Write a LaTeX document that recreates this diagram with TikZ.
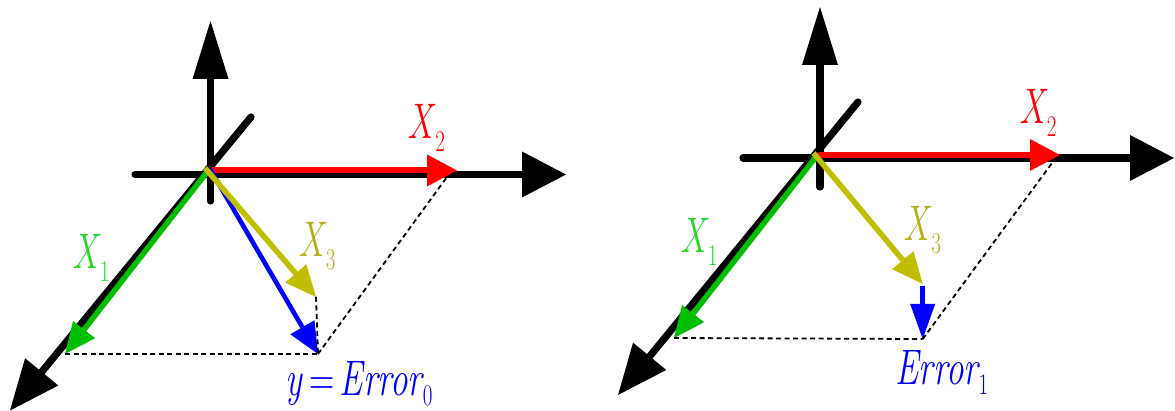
\documentclass[tikz,border=0pt]{standalone}
\usetikzlibrary{arrows.meta}
\definecolor{cred}{RGB}{255,0,0}
\definecolor{cgreen}{RGB}{0,190,0}
\definecolor{cgreenlbl}{RGB}{40,215,40}
\definecolor{cyellow}{RGB}{192,190,0}
\definecolor{cyellowlbl}{RGB}{180,175,20}
\definecolor{cblue}{RGB}{0,0,255}
\newcommand{\lblvar}[2]{\scalebox{0.7}[1]{\fontsize{50}{50}\selectfont\itshape #1\upshape\hspace{3pt}\raisebox{-13pt}{\fontsize{30}{30}\selectfont #2}}}
\newcommand{\lblerr}[2]{\scalebox{0.7}[1]{\fontsize{50}{50}\selectfont #1\itshape Error\upshape\hspace{1pt}\raisebox{-10pt}{\fontsize{30}{30}\selectfont #2}}}
\begin{document}
\begin{tikzpicture}[x=1pt,y=-1pt,
  axis/.style={line width=7.2pt, line cap=round, black},
  upaxis/.style={axis, -{Triangle[length=58pt,width=36pt,line width=0pt]}},
  haxis/.style={axis, -{Triangle[length=44pt,width=46pt,line width=0pt]}},
  daxis/.style={axis, -{Triangle[length=50pt,width=43pt,line width=0pt]}},
  vec/.style={line width=5.5pt, -{Triangle[length=31pt,width=28pt,line width=0pt]}},
  redvec/.style={vec, line width=6pt, cred, -{Triangle[length=30pt,width=32pt,line width=0pt]}},
  greenvec/.style={vec, cgreen},
  yellowvec/.style={vec, cyellow},
  bluevec/.style={vec, line width=4.6pt, cblue},
  blueshort/.style={bluevec, -{Triangle[length=35pt,width=25pt,line width=0pt]}},
  guide/.style={black, line width=1.8pt, dash pattern=on 5pt off 3.5pt},
  lbl/.style={inner sep=0pt, anchor=center}]
\useasboundingbox (0,0) rectangle (1175,411);

% ---------- left panel ----------
\coordinate (V1b) at (210.5,201);
\coordinate (V1t) at (210.5,21);
\coordinate (H1l) at (135,174.5);
\coordinate (H1r) at (566,174.5);
\coordinate (D1a) at (251,117);
\coordinate (D1b) at (10,410.5);
\coordinate (R1s) at (212,170.5);
\coordinate (R1e) at (457,170.5);
\coordinate (G1s) at (207,172);
\coordinate (G1e) at (65,354);
\coordinate (Y1s) at (205,168);
\coordinate (Y1e) at (316,297);
\coordinate (B1s) at (210,169);
\coordinate (B1e) at (318,354);
\coordinate (Q1) at (447,177);

\draw[upaxis] (V1b) -- (V1t);
\draw[haxis] (H1l) -- (H1r);
\draw[daxis] (D1a) -- (D1b);
\draw[greenvec] (G1s) -- (G1e);
\draw[redvec] (R1s) -- (R1e);
\draw[bluevec] (B1s) -- (B1e);
\draw[yellowvec] (Y1s) -- (Y1e);
\draw[guide] (G1e) -- (B1e);
\draw[guide] (Y1e) -- (B1e);
\draw[guide] (B1e) -- (Q1);

\node[lbl, cred] (X21) at (426.5,127.5) {\lblvar{X}{2}};
\node[lbl, cgreenlbl] (X11) at (91,257.5) {\lblvar{X}{1}};
\node[lbl, cyellowlbl] (X31) at (317,246) {\lblvar{X}{3}};
\node[lbl, cblue] (E0) at (359,384) {\lblerr{\itshape y\upshape\hspace{10pt}=\hspace{8pt}}{0}};

% ---------- right panel ----------
\coordinate (V2b) at (820,187);
\coordinate (V2t) at (820,7);
\coordinate (H2l) at (743,158);
\coordinate (H2r) at (1174,158);
\coordinate (D2a) at (858,102);
\coordinate (D2b) at (618,395);
\coordinate (R2s) at (818,155);
\coordinate (R2e) at (1060,155);
\coordinate (G2s) at (815,158);
\coordinate (G2e) at (674,338);
\coordinate (Y2s) at (813.5,153);
\coordinate (Y2e) at (922.7,284);
\coordinate (B2s) at (922.7,286);
\coordinate (B2e) at (922.7,339);
\coordinate (Q2) at (1053.5,161);

\draw[upaxis] (V2b) -- (V2t);
\draw[haxis] (H2l) -- (H2r);
\draw[daxis] (D2a) -- (D2b);
\draw[greenvec] (G2s) -- (G2e);
\draw[redvec] (R2s) -- (R2e);
\draw[yellowvec] (Y2s) -- (Y2e);
\draw[blueshort] (B2s) -- (B2e);
\draw[guide] (G2e) -- (B2e);
\draw[guide] (B2e) -- (Q2);

\node[lbl, cred] (X22) at (1038,112.5) {\lblvar{X}{2}};
\node[lbl, cgreenlbl] (X12) at (699,241.5) {\lblvar{X}{1}};
\node[lbl, cyellowlbl] (X32) at (922.5,230) {\lblvar{X}{3}};
\node[lbl, cblue] (E1) at (942,372) {\lblerr{}{1}};
\end{tikzpicture}
\end{document}
